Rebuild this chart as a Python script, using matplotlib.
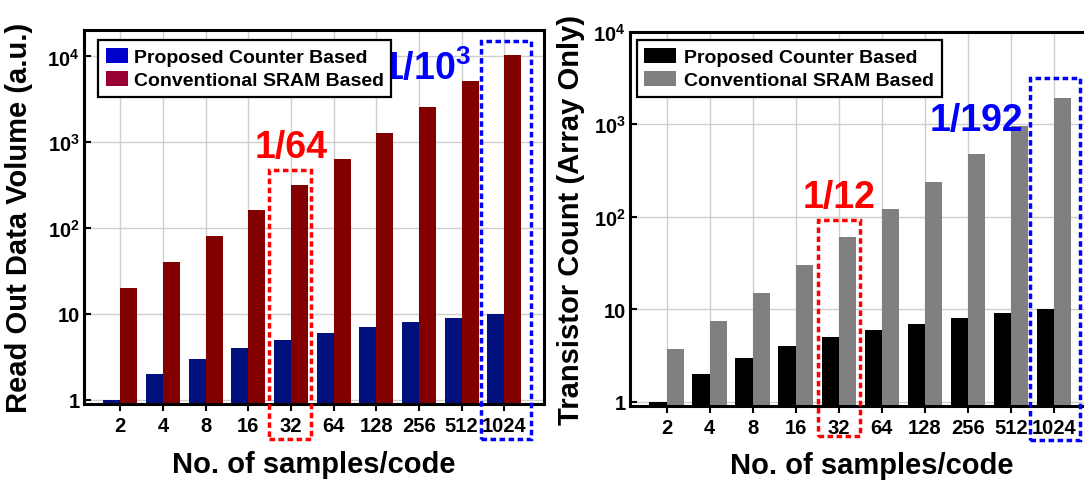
import matplotlib
matplotlib.use("Agg")
import matplotlib.pyplot as plt
from matplotlib.patches import Patch, Rectangle
import numpy as np

# ---- data -------------------------------------------------------------
samples = ["2", "4", "8", "16", "32", "64", "128", "256", "512", "1024"]
counter_readout = [1, 2, 3, 4, 5, 6, 7, 8, 9, 10]
sram_readout = [20, 40, 80, 160, 320, 640, 1280, 2560, 5120, 10240]
counter_transistors = [1, 2, 3, 4, 5, 6, 7, 8, 9, 10]
sram_transistors = [3.75, 7.5, 15, 30, 60, 120, 240, 480, 960, 1920]
legend_labels = ["Proposed Counter Based", "Conventional SRAM Based"]
ytick_values = [1, 10, 100, 1000, 10000]
ytick_labels = ["1", "10", r"10$^{2}$", r"10$^{3}$", r"10$^{4}$"]

# ---- style ------------------------------------------------------------
plt.rcParams["font.family"] = ["Liberation Sans", "DejaVu Sans"]
plt.rcParams["font.weight"] = "bold"
plt.rcParams["axes.labelweight"] = "bold"
plt.rcParams["mathtext.fontset"] = "custom"
plt.rcParams["mathtext.rm"] = "Liberation Sans:bold"
plt.rcParams["mathtext.bf"] = "Liberation Sans:bold"
plt.rcParams["mathtext.default"] = "rm"

W, H = 1084, 481
fig = plt.figure(figsize=(W / 100, H / 100), dpi=100)


def px_axes(left, top, right, bottom):
    return fig.add_axes([left / W, 1 - bottom / H, (right - left) / W, (bottom - top) / H])


ax1 = px_axes(84, 31, 544, 404.5)
ax2 = px_axes(630, 32.7, 1094, 406.7)

x = np.arange(len(samples))
bw = 0.4


def style_axis(ax, ylim):
    ax.set_yscale("log")
    ax.set_xlim(-0.85, 9.93)
    ax.set_ylim(*ylim)
    ax.set_yticks(ytick_values)
    ax.set_yticklabels(ytick_labels)
    ax.yaxis.set_minor_locator(matplotlib.ticker.NullLocator())
    ax.set_xticks(x)
    ax.set_xticklabels(samples)
    ax.tick_params(axis="x", direction="out", length=5, width=1.5, labelsize=14.5, pad=4)
    ax.tick_params(axis="y", direction="in", length=5, width=1.5, labelsize=14.5, pad=3)
    for lab in ax.get_xticklabels() + ax.get_yticklabels():
        lab.set_fontweight("bold")
    ax.grid(True, color="#cfcfcf", linewidth=1.0)
    ax.set_axisbelow(True)
    for sp in ax.spines.values():
        sp.set_linewidth(2.2)
    ax.set_xlabel("No. of samples/code", fontsize=21, fontweight="bold")


def dashed_box(ax, x0, x1, y0, y1, color):
    ax.add_patch(Rectangle((x0, y0), x1 - x0, y1 - y0, fill=False, edgecolor=color,
                           linewidth=2.5, linestyle=(0, (1.6, 1.0)), clip_on=False, zorder=6))


# ---- left: read-out data volume ---------------------------------------
ax1.bar(x - bw / 2, counter_readout, bw, color="#00107c", zorder=2)
ax1.bar(x + bw / 2, sram_readout, bw, color="#820000", zorder=2)
style_axis(ax1, (0.9, 2.03e4))
ax1.xaxis.set_label_coords(0.5, -0.125)
ax1.set_ylabel("Read Out Data Volume (a.u.)", fontsize=21, fontweight="bold")
ax1.yaxis.set_label_coords(-0.111, 0.5)

ax1.text(4, 671, "1/64", color="#ff0000", fontsize=27, fontweight="bold",
         ha="center", va="baseline", zorder=4)
ax1.text(8.22, 5450, r"1/10$^{3}$", color="#0000ff", fontsize=27, fontweight="bold",
         ha="right", va="baseline", zorder=3)
dashed_box(ax1, 3.49, 4.47, 0.347, 474, "#ff0000")
dashed_box(ax1, 8.45, 9.63, 0.347, 1.51e4, "#0000ff")

leg1 = ax1.legend(handles=[Patch(facecolor="#0000cc"), Patch(facecolor="#990033")],
                  labels=legend_labels, loc="upper left", bbox_to_anchor=(0.0304, 0.973),
                  borderaxespad=0, fancybox=False, framealpha=1, edgecolor="black",
                  prop={"size": 14, "weight": "bold"}, handlelength=1.13, handleheight=0.82,
                  handletextpad=0.3, labelspacing=0.25, borderpad=0.4)
leg1.get_frame().set_linewidth(1.6)
leg1.set_zorder(7)

# ---- right: transistor count ------------------------------------------
ax2.bar(x - bw / 2, counter_transistors, bw, color="#000000", zorder=2)
ax2.bar(x + bw / 2, sram_transistors, bw, color="#808080", zorder=2)
style_axis(ax2, (0.905, 1e4))
ax2.xaxis.set_label_coords(0.52, -0.121)
ax2.set_ylabel("Transistor Count (Array Only)", fontsize=21, fontweight="bold")
ax2.yaxis.set_label_coords(-0.097, 0.5)

ax2.text(4, 127, "1/12", color="#ff0000", fontsize=27, fontweight="bold",
         ha="center", va="baseline", zorder=4)
ax2.text(8.28, 871, "1/192", color="#0000ff", fontsize=27, fontweight="bold",
         ha="right", va="baseline", zorder=4)
dashed_box(ax2, 3.51, 4.49, 0.43, 92, "#ff0000")
dashed_box(ax2, 8.44, 9.60, 0.388, 3160, "#0000ff")

leg2 = ax2.legend(handles=[Patch(facecolor="#000000"), Patch(facecolor="#808080")],
                  labels=legend_labels, loc="upper left", bbox_to_anchor=(0.0142, 0.978),
                  borderaxespad=0, fancybox=False, framealpha=1, edgecolor="black",
                  prop={"size": 14, "weight": "bold"}, handlelength=1.65, handleheight=0.82,
                  handletextpad=0.38, labelspacing=0.25, borderpad=0.4)
leg2.get_frame().set_linewidth(1.6)
leg2.set_zorder(7)

fig.savefig("out.png", dpi=100)
